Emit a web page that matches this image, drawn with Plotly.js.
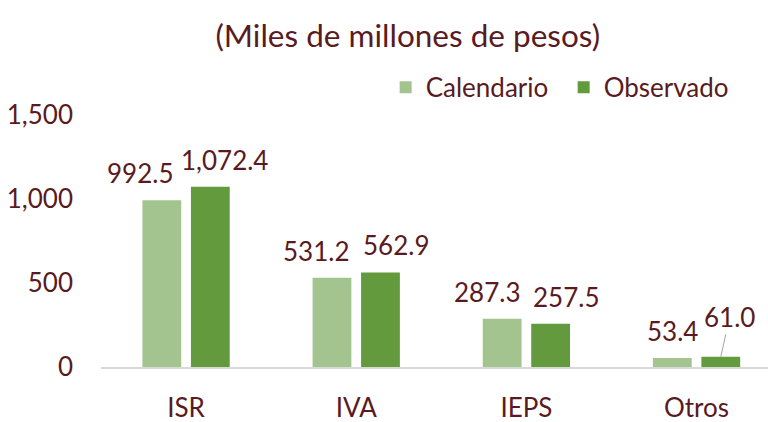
<!DOCTYPE html>
<html><head><meta charset="utf-8">
<script src="https://cdn.plot.ly/plotly-3.0.1.min.js"></script>
<style>html,body{margin:0;padding:0;background:#fff}</style>
</head><body>
<div id="chart" style="width:768px;height:422px"></div>
<script>
const categories = ['ISR', 'IVA', 'IEPS', 'Otros'];
const calendario = [992.5, 531.2, 287.3, 53.4];
const observado = [1072.4, 562.9, 257.5, 61.0];
const seriesNames = ['Calendario', 'Observado'];
const yTicks = [0, 500, 1000, 1500];

const FONT = 'Lato, "DejaVu Sans Condensed", sans-serif';
const TXT = '#5A1A22';
const bargap = 0.43;
const bargroupgap = 0.2;
const slot = (1 - bargap) / 2;
const barHalf = slot * (1 - bargroupgap) / 2;

function fmt(v){ return v.toLocaleString('en-US',{minimumFractionDigits:1, maximumFractionDigits:1}); }

const traces = [
  {type:'bar', name:seriesNames[0], x:categories, y:calendario, marker:{color:'#A3C48F'}, hoverinfo:'none'},
  {type:'bar', name:seriesNames[1], x:categories, y:observado, marker:{color:'#629A3D'}, hoverinfo:'none'}
];

const annotations = [];
[calendario, observado].forEach((vals, s) => {
  vals.forEach((v, i) => {
    const center = i + (s === 0 ? -slot/2 : slot/2);
    const last = (s === 1 && i === categories.length - 1);
    const firstLight = (s === 0 && i === categories.length - 1);
    if (last) {
      annotations.push({x:center, y:v, xref:'x', yref:'y', text:fmt(v), showarrow:true, arrowhead:0,
        arrowwidth:1, arrowcolor:'#A6A6A6', ax:9, ay:-40, standoff:0,
        font:{family:FONT, size:26, color:TXT}});
    } else if (firstLight) {
      annotations.push({x:center, y:v, xref:'x', yref:'y', text:fmt(v), showarrow:false,
        yanchor:'bottom', yshift:9, font:{family:FONT, size:26, color:TXT}});
    } else {
      // light labels end at bar's right edge, dark labels start at bar's left edge
      const edge = s === 0 ? center + barHalf : center - barHalf;
      annotations.push({x:edge, y:v, xref:'x', yref:'y', text:fmt(v), showarrow:false,
        xanchor: s === 0 ? 'right' : 'left', yanchor:'bottom', yshift:9,
        xshift: (i === 0 ? (s === 0 ? -6 : -12) : 0),
        font:{family:FONT, size:26, color:TXT}});
    }
  });
});

const layout = {
  width:768, height:422,
  margin:{l:101, r:0, t:115, b:55},
  paper_bgcolor:'#fff', plot_bgcolor:'#fff',
  font:{family:FONT, color:TXT, size:26},
  title:{text:'(Miles de millones de pesos)', xref:'container', x:0.531, xanchor:'center', y:0.915, yanchor:'middle',
    font:{family:FONT, size:31.5, color:TXT}},
  barmode:'group', bargap:bargap, bargroupgap:bargroupgap,
  showlegend:true,
  legend:{orientation:'h', x:0.9605, xanchor:'right', y:1.11, yanchor:'middle',
    font:{family:FONT, size:26, color:TXT}, entrywidth:133, itemwidth:30, bgcolor:'rgba(0,0,0,0)'},
  xaxis:{type:'category', range:[-0.5, 3.42], showline:true, linecolor:'#D9D9D9', linewidth:2,
    showgrid:false, zeroline:false, ticks:'', ticklabelstandoff:17,
    tickfont:{family:FONT, size:26, color:TXT}, fixedrange:true},
  yaxis:{range:[0,1500], tickvals:yTicks, ticktext:yTicks.map(v=>v.toLocaleString('en-US')),
    showgrid:false, zeroline:false, showline:false, ticks:'', ticklabelstandoff:27,
    tickfont:{family:FONT, size:26, color:TXT}, fixedrange:true},
  annotations:annotations
};

Plotly.newPlot('chart', traces, layout, {displayModeBar:false, staticPlot:true});
</script>
</body></html>
